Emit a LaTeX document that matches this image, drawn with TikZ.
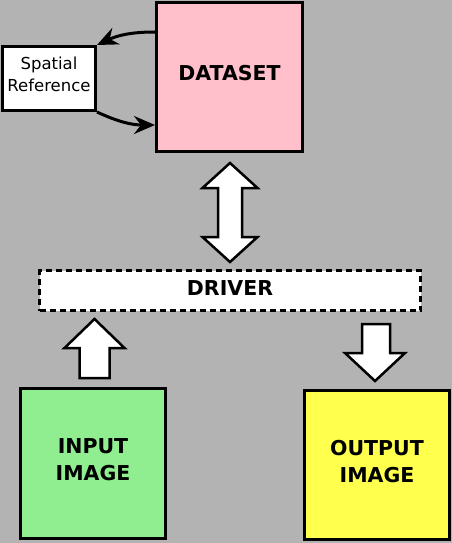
\documentclass[tikz,border=0pt]{standalone}
\usepackage{fontspec}
\setmainfont{DejaVu Sans}
\usetikzlibrary{arrows.meta}

\definecolor{bggray}{HTML}{B3B3B3}
\definecolor{dspink}{HTML}{FFC0CB}
\definecolor{ingreen}{HTML}{90EE90}
\definecolor{outyellow}{HTML}{FFFF4D}

\begin{document}
\begin{tikzpicture}[x=1pt,y=-1pt,
                    box/.style={draw,line width=3pt,align=center,inner sep=0pt,
                                font=\fontsize{20.5}{27}\selectfont\bfseries,text depth=8pt},
                    link/.style={-{Stealth[length=21pt,width=18pt,inset=7pt]},line width=3pt},
                    blockarrow/.style={draw,fill=white,line width=2.5pt,line join=miter}]

  \fill[bggray] (0,0) rectangle (452,543);

  \node[box,fill=dspink,minimum width=146pt,minimum height=149pt] (dataset) at (229.5,77) {DATASET};
  \node[box,fill=white,minimum width=93pt,minimum height=64pt,
        font=\fontsize{16.5}{22}\selectfont] (sref) at (49,78.5) {Spatial\\Reference};
  \node[box,fill=white,dash pattern=on 6pt off 4pt,
        minimum width=381pt,minimum height=40pt,text depth=5pt] (driver) at (230,290.5) {DRIVER};
  \node[box,fill=ingreen,minimum width=145pt,minimum height=150pt] (input) at (93,463.5) {INPUT\\IMAGE};
  \node[box,fill=outyellow,minimum width=145pt,minimum height=149pt] (output) at (377,465) {OUTPUT\\IMAGE};

  \draw[link] ([yshift=45pt]dataset.west) to [out=180,in=25] (sref.north east);
  \draw[link] (sref.south east) to [out=-25,in=180] ([yshift=-48pt]dataset.west);

  % block arrows
  \draw[blockarrow] (230,163) -- (257.5,188) -- (242,188) -- (242,237) -- (257.5,237) -- (230,262)
    -- (202.5,237) -- (218,237) -- (218,188) -- (202.5,188) -- cycle;
  \draw[blockarrow] (94.5,319) -- (124.5,348) -- (109.5,348) -- (109.5,378) -- (79.5,378)
    -- (79.5,348) -- (64.5,348) -- cycle;
  \draw[blockarrow] (362,324) -- (390,324) -- (390,353) -- (405,353) -- (375,381)
    -- (345,353) -- (362,353) -- cycle;
\end{tikzpicture}
\end{document}
